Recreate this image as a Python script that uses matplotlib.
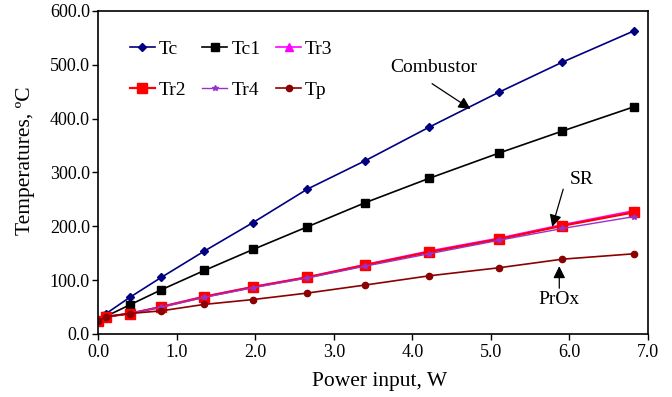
import matplotlib
matplotlib.use("Agg")
import matplotlib.pyplot as plt

plt.rcParams['font.family'] = ['Liberation Serif', 'DejaVu Serif']

# power input (W) and temperatures (degC)
power = [0.0, 0.1, 0.4, 0.8, 1.35, 1.97, 2.66, 3.40, 4.21, 5.10, 5.91, 6.82]
tc = [25, 38, 68, 105, 154, 207, 269, 322, 384, 449, 505, 563]
tc1 = [25, 33, 54, 82, 118, 157, 199, 244, 289, 336, 377, 422]
tr3 = [25, 32, 38, 51, 70, 88, 106, 129, 154, 178, 203, 229]
tr2 = [25, 32, 38, 50, 69, 87, 105, 128, 152, 176, 201, 226]
tr4 = [25, 32, 38, 50, 68, 86, 104, 126, 149, 174, 196, 218]
tp = [25, 32, 38, 43, 55, 64, 76, 91, 108, 123, 139, 149]

fig = plt.figure(figsize=(6.72, 3.97), dpi=100)
ax = fig.add_axes([0.1463, 0.1587, 0.818, 0.8136])

l_tc, = ax.plot(power, tc, color='#000080', marker='D', markersize=4, lw=1.2, label='Tc')
l_tc1, = ax.plot(power, tc1, color='black', marker='s', markersize=5.5, lw=1.2, label='Tc1')
l_tr3, = ax.plot(power, tr3, color='#FF00FF', marker='^', markersize=6, lw=1.2, label='Tr3')
l_tr2, = ax.plot(power, tr2, color='#FF0000', marker='s', markersize=6.5, lw=1.6, label='Tr2')
l_tr4, = ax.plot(power, tr4, color='#9932CC', marker='*', markersize=4, lw=1.0, label='Tr4')
l_tp, = ax.plot(power, tp, color='#8B0000', marker='o', markersize=4.5, lw=1.2, label='Tp')

ax.set_xlim(0, 7)
ax.set_ylim(0, 600)
ax.set_xticks([i for i in range(8)])
ax.set_xticklabels([f'{i:.1f}' for i in range(8)])
ax.set_yticks(range(0, 601, 100))
ax.set_yticklabels([f'{v:.1f}' for v in range(0, 601, 100)])
ax.tick_params(direction='out', length=4, width=1, labelsize=13)
ax.tick_params(axis='x', pad=3)
ax.tick_params(axis='y', pad=2)
for s in ax.spines.values():
    s.set_linewidth(1.2)

ax.set_xlabel('Power input, W', fontsize=15.5, va='center')
ax.set_ylabel('Temperatures, ºC', fontsize=15.5, va='center')
ax.xaxis.set_label_coords(0.512, -0.148)
ax.yaxis.set_label_coords(-0.133, 0.536)

# labels and their arrows
arrow = dict(arrowstyle='-|>,head_length=0.6,head_width=0.3', color='black',
             lw=0.9, mutation_scale=12, shrinkA=0, shrinkB=0)
ax.text(4.27, 495, 'Combustor', fontsize=14, ha='center', va='center')
ax.annotate('', xy=(4.74, 418), xytext=(4.25, 465), arrowprops=arrow)
ax.text(6.15, 287, 'SR', fontsize=14, ha='center', va='center')
ax.annotate('', xy=(5.78, 199), xytext=(5.92, 269), arrowprops=arrow)
ax.text(5.87, 64, 'PrOx', fontsize=14, ha='center', va='center')
ax.annotate('', xy=(5.87, 126), xytext=(5.87, 85), arrowprops=arrow)

# matplotlib fills legend columns first, so order handles to read row-wise
handles = [l_tc, l_tr2, l_tc1, l_tr4, l_tr3, l_tp]
ax.legend(handles=handles, labels=[h.get_label() for h in handles], ncol=3,
          loc='upper left', bbox_to_anchor=(0.0395, 0.939), frameon=False,
          fontsize=14, handlelength=1.3, handletextpad=0.2,
          columnspacing=0.8, labelspacing=1.2, borderpad=0)

fig.savefig('out.png', dpi=100)
